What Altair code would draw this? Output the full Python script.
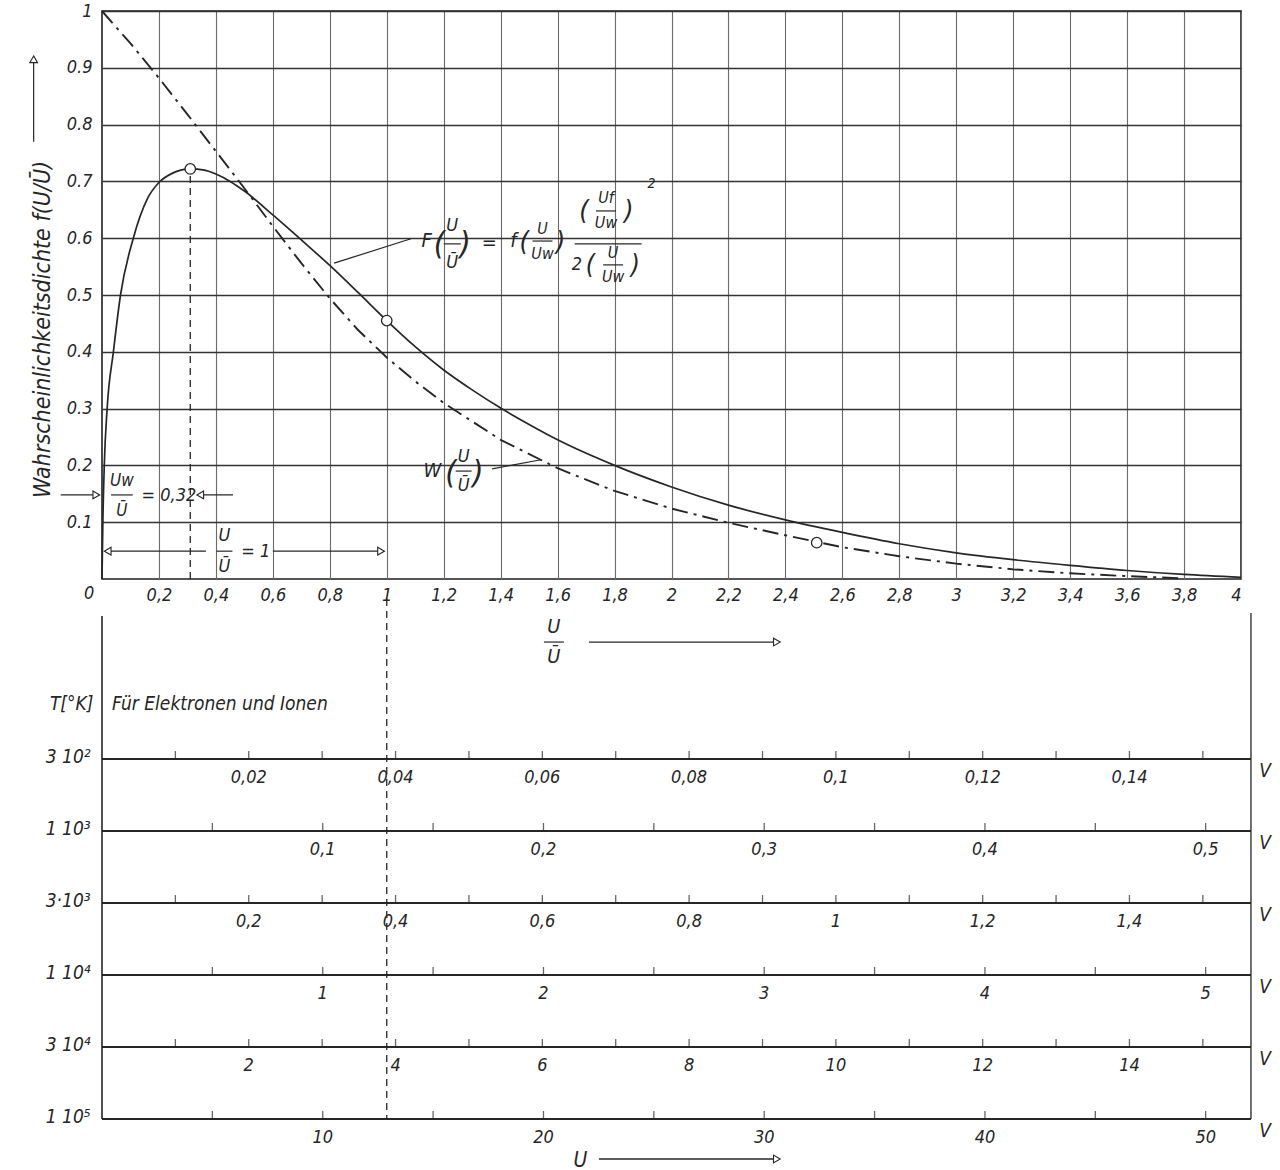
import altair as alt
import pandas as pd

FONT = "DejaVu Sans Condensed, Liberation Sans Narrow, DejaVu Sans"
INK = "#262626"

# ---------------- data ----------------
# F(U/Ū)  (solid curve)
f_x = [0, 0.003, 0.008, 0.018, 0.04, 0.065, 0.11, 0.16, 0.2, 0.25,
       0.31, 0.36, 0.4, 0.45, 0.5, 0.6, 0.7, 0.8, 0.9, 1.0,
       1.1, 1.2, 1.3, 1.4, 1.5, 1.6, 1.8, 2.0, 2.2, 2.4,
       2.6, 2.8, 3.0, 3.2, 3.4, 3.6, 3.8, 4.0]
f_y = [0, 0.1, 0.2, 0.3, 0.4, 0.5, 0.6, 0.67, 0.698, 0.715,
       0.722, 0.72, 0.713, 0.70, 0.683, 0.641, 0.597, 0.552, 0.504, 0.455,
       0.409, 0.368, 0.333, 0.301, 0.272, 0.245, 0.200, 0.162, 0.130, 0.104,
       0.082, 0.062, 0.046, 0.034, 0.024, 0.015, 0.008, 0.003]

# W(U/Ū)  (dash-dot curve)
w_x = [0, 0.1, 0.2, 0.3, 0.4, 0.5, 0.6, 0.7, 0.8, 0.9, 1.0, 1.1, 1.2,
       1.4, 1.6, 1.8, 2.0, 2.2, 2.4, 2.6, 2.8, 3.0, 3.2, 3.4, 3.6, 3.8]
w_y = [1.0, 0.943, 0.882, 0.818, 0.753, 0.688, 0.621, 0.556, 0.494, 0.438, 0.39, 0.348, 0.310,
       0.245, 0.195, 0.155, 0.124, 0.099, 0.077, 0.056, 0.040, 0.027, 0.017, 0.010, 0.005, 0.001]

# open circles
mark_x = [0.31, 1.0, 2.51]
mark_y = [0.722, 0.455, 0.064]

x_ticks = [0.2, 0.4, 0.6, 0.8, 1, 1.2, 1.4, 1.6, 1.8, 2, 2.2, 2.4, 2.6, 2.8, 3,
           3.2, 3.4, 3.6, 3.8, 4]
y_ticks = [0.1, 0.2, 0.3, 0.4, 0.5, 0.6, 0.7, 0.8, 0.9, 1.0]

# voltage scales for the temperatures
temps = ["3 10²", "1 10³", "3·10³", "1 10⁴", "3 10⁴", "1 10⁵"]
u_ref = [0.0388, 0.129, 0.388, 1.29, 3.88, 12.9]   # U [V] at U/Ū = 1
ticks_by_row = [
    [0.01, 0.02, 0.03, 0.04, 0.05, 0.06, 0.07, 0.08, 0.09, 0.10, 0.11, 0.12, 0.13, 0.14, 0.15],
    [0.05, 0.1, 0.15, 0.2, 0.25, 0.3, 0.35, 0.4, 0.45, 0.5],
    [0.1, 0.2, 0.3, 0.4, 0.5, 0.6, 0.7, 0.8, 0.9, 1.0, 1.1, 1.2, 1.3, 1.4, 1.5],
    [0.5, 1, 1.5, 2, 2.5, 3, 3.5, 4, 4.5, 5],
    [1, 2, 3, 4, 5, 6, 7, 8, 9, 10, 11, 12, 13, 14, 15],
    [5, 10, 15, 20, 25, 30, 35, 40, 45, 50],
]
labels_by_row = [
    [0.02, 0.04, 0.06, 0.08, 0.1, 0.12, 0.14],
    [0.1, 0.2, 0.3, 0.4, 0.5],
    [0.2, 0.4, 0.6, 0.8, 1, 1.2, 1.4],
    [1, 2, 3, 4, 5],
    [2, 4, 6, 8, 10, 12, 14],
    [10, 20, 30, 40, 50],
]

# ---------------- top chart ----------------
W_TOP, H_TOP = 1139, 568
xs = alt.Scale(domain=[0, 4], nice=False, zero=False)
ys = alt.Scale(domain=[0, 1], nice=False, zero=False)

df_f = pd.DataFrame({"x": f_x, "y": f_y})
df_w = pd.DataFrame({"x": w_x, "y": w_y})
df_m = pd.DataFrame({"x": mark_x, "y": mark_y})

base_f = alt.Chart(df_f).mark_line(color=INK, strokeWidth=1.7, interpolate="monotone").encode(
    x=alt.X("x:Q", scale=xs, axis=alt.Axis(
        values=x_ticks, grid=True, gridColor="#6a6a6a", gridWidth=1.1, ticks=False,
        domain=False, labelExpr="replace(format(datum.value, '~g'), '.', ',')", labelPadding=7,
        title=None)),
    y=alt.Y("y:Q", scale=ys, axis=alt.Axis(
        values=y_ticks, grid=True, gridColor="#333333", gridWidth=1.6, ticks=False,
        domain=False, format=".1~f", labelPadding=10,
        title="Wahrscheinlichkeitsdichte f(U/Ū)", titleX=-60, titleY=318,
        titleAngle=-90, titleAlign="center", titleBaseline="middle",
        titleFontSize=23, titleFontWeight="normal", titleFontStyle="italic",
        titleFont=FONT, titleColor=INK)),
)
line_w = alt.Chart(df_w).mark_line(color=INK, strokeWidth=1.9, strokeDash=[16, 6, 3, 6]).encode(
    x="x:Q", y="y:Q")
circles = alt.Chart(df_m).mark_point(shape="circle", size=110, filled=True, fill="white",
                                     stroke=INK, strokeWidth=1.3, opacity=1).encode(
    x="x:Q", y="y:Q")

# annotations (data units)
texts = []
rules = []
heads = []


def frac(cx, y_num, y_den, y_bar, num, den, half, size=16):
    texts.append({"t": num, "x": cx, "y": y_num, "s": size})
    texts.append({"t": den, "x": cx, "y": y_den, "s": size})
    rules.append({"x": cx - half, "x2": cx + half, "y": y_bar, "y2": y_bar})


# F formula
rules.append({"x": 0.815, "x2": 1.085, "y": 0.556, "y2": 0.599})
texts += [{"t": "F", "x": 1.14, "y": 0.595, "s": 20},
          {"t": "(", "x": 1.185, "y": 0.59, "s": 32},
          {"t": ")", "x": 1.275, "y": 0.59, "s": 32},
          {"t": "=", "x": 1.36, "y": 0.592, "s": 20},
          {"t": "f", "x": 1.445, "y": 0.595, "s": 20},
          {"t": "(", "x": 1.483, "y": 0.593, "s": 27},
          {"t": ")", "x": 1.61, "y": 0.593, "s": 27},
          {"t": "(", "x": 1.693, "y": 0.648, "s": 27},
          {"t": ")", "x": 1.85, "y": 0.648, "s": 27},
          {"t": "2", "x": 1.93, "y": 0.695, "s": 14},
          {"t": "2", "x": 1.668, "y": 0.552, "s": 18},
          {"t": "(", "x": 1.715, "y": 0.553, "s": 26},
          {"t": ")", "x": 1.873, "y": 0.553, "s": 26}]
frac(1.23, 0.622, 0.557, 0.59, "U", "Ū", 0.03, 18)
frac(1.547, 0.617, 0.572, 0.595, "U", "Uw", 0.035, 16)
rules.append({"x": 1.66, "x2": 1.895, "y": 0.59, "y2": 0.59})
frac(1.77, 0.671, 0.626, 0.648, "Uf", "Uw", 0.035, 16)
frac(1.795, 0.574, 0.532, 0.553, "U", "Uw", 0.035, 16)

# W label
rules.append({"x": 1.37, "x2": 1.542, "y": 0.194, "y2": 0.21})
texts += [{"t": "W", "x": 1.16, "y": 0.19, "s": 20},
          {"t": "(", "x": 1.225, "y": 0.187, "s": 32},
          {"t": ")", "x": 1.32, "y": 0.187, "s": 32}]
frac(1.27, 0.214, 0.163, 0.19, "U", "Ū", 0.028, 18)

# Uw/Ū = 0,32
rules.append({"x": -0.145, "x2": -0.02, "y": 0.148, "y2": 0.148})
heads.append({"x": -0.02, "y": 0.148, "sh": "triangle-right"})
frac(0.07, 0.172, 0.12, 0.148, "Uw", "Ū", 0.038, 17)
texts.append({"t": "= 0,32", "x": 0.235, "y": 0.146, "s": 18})
rules.append({"x": 0.345, "x2": 0.46, "y": 0.148, "y2": 0.148})
heads.append({"x": 0.345, "y": 0.148, "sh": "triangle-left"})

# U/Ū = 1
rules.append({"x": 0.02, "x2": 0.365, "y": 0.049, "y2": 0.049})
rules.append({"x": 0.6, "x2": 0.98, "y": 0.049, "y2": 0.049})
heads.append({"x": 0.02, "y": 0.049, "sh": "triangle-left"})
heads.append({"x": 0.98, "y": 0.049, "sh": "triangle-right"})
frac(0.43, 0.076, 0.022, 0.049, "U", "Ū", 0.028, 18)
texts.append({"t": "= 1", "x": 0.54, "y": 0.047, "s": 18})

# dashed marker at Uw/Ū
dashed_top = pd.DataFrame({"x": [0.31], "y": [0.0], "y2": [0.712]})

# corner zero
texts.append({"t": "0", "x": -0.045, "y": -0.026, "s": 18})

# x-axis title  U/Ū ->
frac(1.587, -0.084, -0.138, -0.111, "U", "Ū", 0.035, 20)
rules.append({"x": 1.71, "x2": 2.37, "y": -0.111, "y2": -0.111})
heads.append({"x": 2.37, "y": -0.111, "sh": "triangle-right"})

# y-axis title arrow
rules.append({"x": -0.24, "x2": -0.24, "y": 0.77, "y2": 0.915})
heads.append({"x": -0.24, "y": 0.915, "sh": "triangle-up"})

df_t = pd.DataFrame(texts)
df_r = pd.DataFrame(rules)
df_h = pd.DataFrame(heads)

ann_text = alt.Chart(df_t).mark_text(font=FONT, fontStyle="italic", color=INK,
                                     baseline="middle", align="center").encode(
    x="x:Q", y="y:Q", text="t:N", size=alt.Size("s:Q", scale=None))
ann_rule = alt.Chart(df_r).mark_rule(color=INK, strokeWidth=1.2).encode(
    x="x:Q", x2="x2:Q", y="y:Q", y2="y2:Q")
ann_head = alt.Chart(df_h).mark_point(filled=True, fill="white", stroke=INK, strokeWidth=1.1,
                                      size=60, opacity=1).encode(
    x="x:Q", y="y:Q", shape=alt.Shape("sh:N", scale=None))
dash_rule = alt.Chart(dashed_top).mark_rule(color=INK, strokeWidth=1.3, strokeDash=[7, 5]).encode(
    x="x:Q", y="y:Q", y2="y2:Q")

top = alt.layer(base_f, line_w, dash_rule, ann_rule, ann_head, ann_text, circles).properties(
    width=W_TOP, height=H_TOP,
    view=alt.ViewBackground(stroke="#1e1e1e", strokeWidth=1.6))

# ---------------- bottom chart (voltage scales) ----------------
RIGHT = 4.035
rows = []
for t, ur, tk in zip(temps, u_ref, ticks_by_row):
    for u in tk:
        rows.append({"temp": t, "u": u, "uref": ur})
df_ticks = pd.DataFrame(rows)
lrows = []
for t, ur, lb in zip(temps, u_ref, labels_by_row):
    for u in lb:
        lrows.append({"temp": t, "u": u, "uref": ur, "lab": f"{u:g}".replace(".", ",")})
df_labs = pd.DataFrame(lrows)
df_rows = pd.DataFrame({"temp": temps})
one = pd.DataFrame({"k": [0]})

bxs = alt.Scale(domain=[0, 4], nice=False, zero=False)
bys = alt.Scale(type="point", domain=temps, padding=0)

row_lines = alt.Chart(df_rows).mark_rule(color=INK, strokeWidth=2.2).encode(
    x=alt.X(datum=0, scale=bxs, axis=None), x2=alt.datum(RIGHT),
    y=alt.Y("temp:N", scale=bys, axis=None))
tick_marks = alt.Chart(df_ticks).transform_calculate(xx="datum.u / datum.uref").mark_tick(
    color=INK, thickness=1.3, size=8, yOffset=-4).encode(
    x="xx:Q", y="temp:N")
tick_labs = alt.Chart(df_labs).transform_calculate(xx="datum.u / datum.uref").mark_text(
    font=FONT, fontStyle="italic", color=INK, fontSize=18, dy=19).encode(
    x="xx:Q", y="temp:N", text="lab:N")
temp_labs = alt.Chart(df_rows).mark_text(font=FONT, fontStyle="italic", color=INK, fontSize=19,
                                         align="right", dy=-2).encode(
    x=alt.datum(-0.04), y="temp:N", text="temp:N")
v_labs = alt.Chart(df_rows).transform_calculate(v="'V'").mark_text(
    font=FONT, fontStyle="italic", color=INK, fontSize=19, dy=12).encode(
    x=alt.datum(4.085), y="temp:N", text="v:N")
left_line = alt.Chart(one).mark_rule(color=INK, strokeWidth=1.6).encode(
    x=alt.datum(0), y=alt.value(-143), y2=alt.value(360))
right_line = alt.Chart(one).mark_rule(color=INK, strokeWidth=1.3).encode(
    x=alt.datum(RIGHT), y=alt.value(-146), y2=alt.value(360))
dash_low = alt.Chart(one).mark_rule(color=INK, strokeWidth=1.3, strokeDash=[7, 5]).encode(
    x=alt.datum(1), y=alt.value(-160), y2=alt.value(360))
header1 = alt.Chart(one).transform_calculate(t="'T[°K]'").mark_text(
    font=FONT, fontStyle="italic", color=INK, fontSize=19, align="right").encode(
    x=alt.datum(-0.03), y=alt.value(-55), text="t:N")
header2 = alt.Chart(one).transform_calculate(t="'Für Elektronen und Ionen'").mark_text(
    font=FONT, fontStyle="italic", color=INK, fontSize=19, align="left").encode(
    x=alt.datum(0.035), y=alt.value(-55), text="t:N")
foot_u = alt.Chart(one).transform_calculate(t="'U'").mark_text(
    font=FONT, fontStyle="italic", color=INK, fontSize=21).encode(
    x=alt.datum(1.68), y=alt.value(402), text="t:N")
foot_arrow = alt.Chart(one).mark_rule(color=INK, strokeWidth=1.3).encode(
    x=alt.datum(1.745), x2=alt.datum(2.37), y=alt.value(400))
foot_head = alt.Chart(one).mark_point(shape="triangle-right", filled=True, fill="white",
                                      stroke=INK, strokeWidth=1.1, size=60, opacity=1).encode(
    x=alt.datum(2.37), y=alt.value(400))

bottom = alt.layer(row_lines, tick_marks, tick_labs, temp_labs, v_labs, left_line, right_line,
                   dash_low, header1, header2, foot_u, foot_arrow, foot_head).properties(
    width=W_TOP, height=360, view=alt.ViewBackground(stroke="transparent"))

chart = alt.vconcat(top, bottom, spacing=180, bounds="flush").properties(
    padding={"left": 26, "top": 1, "right": 5, "bottom": 2}
).configure(background="white").configure_axis(
    labelFont=FONT, labelFontStyle="italic", labelFontSize=18, labelColor=INK
)

chart.save("out.html", embed_options={"renderer": "svg", "actions": False})
